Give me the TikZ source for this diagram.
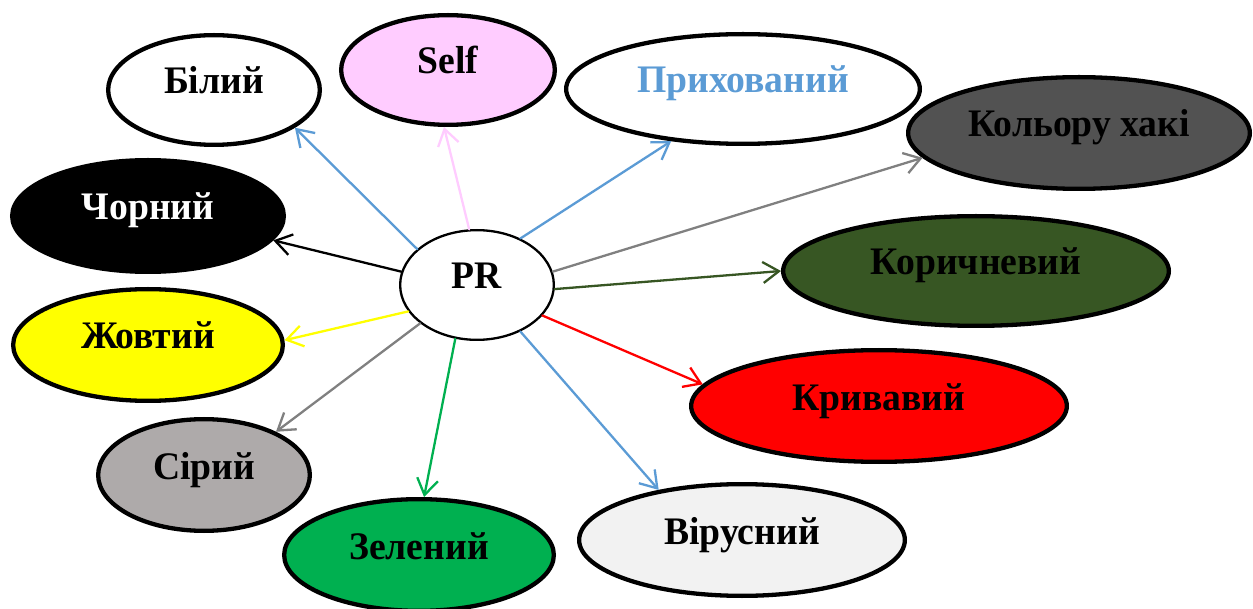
\documentclass[tikz,border=0pt]{standalone}
\usepackage{fontspec}
\setmainfont[FakeStretch=0.965]{Liberation Serif}
\usetikzlibrary{shapes.geometric,arrows.meta}
\definecolor{selfpink}{HTML}{FFCCFF}
\definecolor{hidblue}{HTML}{5B9BD5}
\definecolor{khaki}{HTML}{525252}
\definecolor{brown}{HTML}{375623}
\definecolor{blood}{HTML}{FF0000}
\definecolor{yel}{HTML}{FFFF00}
\definecolor{greyfill}{HTML}{AEAAAA}
\definecolor{grn}{HTML}{00B050}
\definecolor{virfill}{HTML}{F2F2F2}
\definecolor{arrgrey}{HTML}{808080}
\begin{document}
\begin{tikzpicture}[x=1pt,y=-1pt,
  bub/.style={ellipse, draw=black, line width=4.3pt, inner sep=0pt,
    text height=26pt, text depth=18pt,
    font=\fontsize{39}{39}\selectfont\bfseries},
  conn/.style={line width=2.3pt, line cap=round,
    -{Straight Barb[length=16pt,width=21pt]}}]
\useasboundingbox (0,0) rectangle (1253,609);

\node[bub, fill=white, minimum width=211.7pt, minimum height=109.7pt] (bil) at (214,90) {Білий};
\node[bub, fill=selfpink, minimum width=213.7pt, minimum height=109.7pt] (self) at (448,70) {Self};
\node[bub, fill=white, text=hidblue, minimum width=353.7pt, minimum height=109.7pt] (pryh) at (743,89) {Прихований};
\node[bub, fill=khaki, minimum width=341.7pt, minimum height=111.7pt] (khak) at (1079,133) {Кольору хакі};
\node[bub, fill=brown, minimum width=385.7pt, minimum height=109.7pt] (kor) at (976,271) {Коричневий};
\node[bub, fill=black, text=white, minimum width=271.7pt, minimum height=111.7pt] (chor) at (148,216) {Чорний};
\node[bub, fill=yel, minimum width=269.7pt, minimum height=111.7pt] (zhov) at (148,345) {Жовтий};
\node[bub, fill=blood, minimum width=375.7pt, minimum height=111.7pt] (kryv) at (879,406) {Кривавий};
\node[bub, fill=greyfill, minimum width=211.7pt, minimum height=111.7pt] (sir) at (204,475) {Сірий};
\node[bub, fill=grn, minimum width=269.7pt, minimum height=111.7pt] (zel) at (419,555) {Зелений};
\node[bub, fill=virfill, minimum width=325.7pt, minimum height=111.7pt] (vir) at (742,540) {Вірусний};
\node[bub, fill=white, line width=2.3pt, minimum width=153.7pt, minimum height=109.7pt] (pr) at (477,285) {PR};

\draw[conn, hidblue] (pr.149) -- (bil.-25);
\draw[conn, selfpink] (pr.98) -- (self.-94);
\draw[conn, hidblue] (pr.47) -- (pryh.216);
\draw[conn, arrgrey] (pr.10) -- (khak.189);
\draw[conn, brown] (pr.-3) -- (kor.180);
\draw[conn, black] (pr.170) -- (chor.-11);
\draw[conn, yel] (pr.201) -- (zhov.2);
\draw[conn, blood] (pr.-25) -- (kryv.173);
\draw[conn, arrgrey] (pr.214) -- (sir.31);
\draw[conn, grn] (pr.248) -- (zel.85);
\draw[conn, hidblue] (pr.-47) -- (vir.149);
\end{tikzpicture}
\end{document}
